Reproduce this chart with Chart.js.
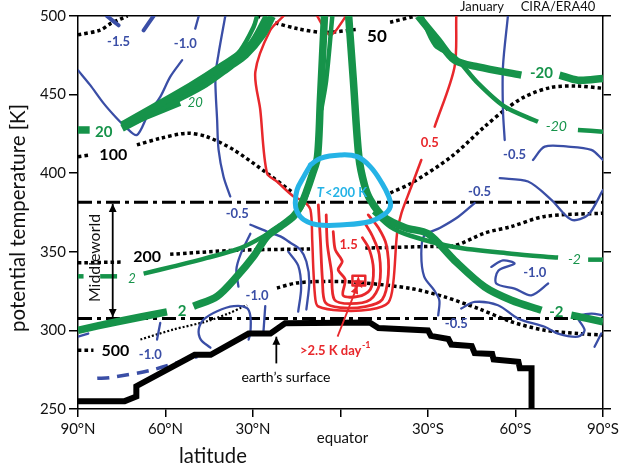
<!DOCTYPE html>
<html lang="en">
<head>
<meta charset="UTF-8">
<title>Middleworld | January CIRA/ERA40</title>
<script src="https://cdn.jsdelivr.net/npm/chart.js@4.4.1/dist/chart.umd.min.js"></script>
<style>
  html, body { margin: 0; padding: 0; background: #fff; }
  .wrap { width: 622px; height: 467px; position: relative; }
</style>
</head>
<body>
<div class="wrap"><canvas id="theta"></canvas></div>
<script>
// axis ticks
const latTicks = [90, 60, 30, 0, -30, -60, -90];
const thetaTicks = [250, 300, 350, 400, 450, 500];

// [latitude (N > 0), potential temperature K]
const surface = [[90,255],[74,255],[70,258],[70,264.5],[50,284.5],[44.5,284.5],[31.5,298],[24,298],[19,304.5],[-10,305],[-13,301.5],[-30,300],[-31,296.5],[-37,294.5],[-38,291],[-45,290],[-46,285.5],[-52,285],[-52.5,281.5],[-61,280],[-61.5,276],[-65.5,276],[-65.5,250]];
const layerTop = [[90,381.5],[-90,381.5]];
const layerBottom = [[90,307.5],[-90,307.5]];

// pressure levels (hPa), dotted
const p50a = [[90,488],[82.4,491],[79,495],[75.5,498],[73,500]];
const p50b = [[28.6,500],[22.9,496],[14.9,492],[5.8,489.5],[-5.7,491.5]];
const p50c = [[-17,496],[-25.7,500]];
const p100a = [[90,410.5],[85.8,411.6]];
const p100b = [[69.8,418],[61.8,422.2],[52.6,425.4],[45.8,423.2],[36.6,414.8],[25.2,400],[16.1,387.3]];
const p100c = [[-17.1,387.5],[-24.3,393.7],[-38,410.5],[-49.4,429.6],[-56.3,440.2],[-63.1,448.6],[-72.3,454.6],[-81.4,455.4],[-90,454]];
const p200a = [[90,343],[74.4,343.5]];
const p200b = [[58.4,348.4],[36.6,350.9],[10.3,351.8]];
const p200c = [[-8.5,352.4],[-30.8,353.4],[-39.1,353.9],[-49.4,361.9],[-58.6,366.1],[-70,372.5],[-90,374.6]];
const p300 = [[21.8,327],[14.9,330.2],[3.5,331.2],[-7.9,330.2],[-24.3,326.6],[-35.7,321.3],[-47.2,313.9],[-58.6,305.5],[-70,300.1],[-81.5,298],[-90,297]];
const p500a = [[90,287.4],[84.7,287.4]];
const p500b = [[68.6,294.2],[57.2,300.6],[45.8,305.8],[37.8,311.2],[34.3,314.3],[32,316]];

// zonal wind (m/s), green
const u20stub = [[90,427.5],[86,427.5]];
const u20a = [[74.9,430.6],[51.5,455.4],[40.2,468.7],[30.9,481.4],[25.1,499.8]];
const u20b = [[74.9,428.7],[56.6,446.5],[46.4,456.7],[37.8,468.1],[32.6,475.1],[26.8,487.8],[23.4,499.8]];
const u20c1 = [[73.8,430],[54.9,444.3]];
const u20c2 = [[48.6,453.9],[41.1,465.5],[34.3,478.2],[29.8,493],[28.6,500]];
const u2a = [[90,300.1],[76.6,305.5],[59.5,311.8]];
const u2b = [[50.4,315.4],[42.3,321.7],[35.5,334.4],[29.8,347.1],[25.2,359.8],[20.6,366.1],[16.1,372.5],[13.8,378.8],[11.7,388.1],[9.7,398.9],[7.9,410.3],[6.9,446.5],[5.5,500]];
const u2thinA = [[90,334.4],[88.1,334.4]];
const u2thinB = [[82.4,334.4],[76.6,334.4]];
const u2thinC = [[67.5,336.1],[57.2,340.7],[45.8,346.1],[34.3,352.4],[26.4,359.8],[19.5,368.3],[14.9,374.6],[12.6,381],[10.6,392.6]];
const u2top = [[6.6,440.2],[4.9,459.2],[2.8,500]];
const um2a = [[-2.8,500],[-4.4,459.2],[-6.3,410.3],[-8.2,392.6],[-10.2,383.1],[-14.7,372.3],[-22.2,365.3],[-30,361.5],[-39.1,344.5],[-49.4,327.7],[-58.6,319.2],[-68.9,312.8]];
const um2b = [[-79.1,309.7],[-90,305.5]];
const um2thin = [[-11.3,375.5],[-17.1,365.9],[-24,360.2],[-39,353],[-58.6,348.8],[-74.6,346.3]];
const um2thin2 = [[-84.9,345],[-90,345]];
const um20a = [[-26.6,500],[-33.4,484.6],[-39.1,471.9],[-47.2,467.6],[-62,462.4]];
const um20b = [[-75.1,462.4],[-81.4,459.2],[-90,460.3]];
const um20thin = [[-27.7,500],[-32.5,481.4],[-39.1,474],[-47.2,457.1],[-56.3,442.3],[-67.7,432.7]];
const um20thin2 = [[-81.4,427.5],[-90,426.4]];

// heating (K/day), red
const h05 = [[19.5,500],[24.1,490.9],[29.2,464.5],[27.5,440.2],[25.2,400],[21.8,394.7],[16.1,385.2],[12.6,382],[10.3,376.7],[9.7,357.7],[9.3,338.6],[8.6,319.6],[7.6,315.2],[0.1,312.6],[-10.2,313.3],[-16.4,317.7],[-18.1,330.4],[-19.4,361.9],[-20.9,374.6],[-24.3,391.5],[-27.7,408.4]];
const h05top = [[-32.3,429.6],[-39.1,467.6],[-39.7,500]];
const h05v = [[8,500],[3.5,487.8],[-1.7,499.4]];
const h10 = [[7.6,379.9],[6.9,357.7],[6.2,332.3],[5.2,317.7],[0.1,314.5],[-8.5,315.2],[-14.3,319.6],[-16.4,335.5],[-15.7,354.5],[-13,365.3],[-9.5,373.5]];
const h15 = [[4.9,373.5],[4.5,354.5],[3.1,337.4],[2.1,319.6],[-3.4,317],[-10.2,319.6],[-13.3,329.1],[-13.3,348.2],[-10.9,360.2],[-8.5,367.8]];
const h20 = [[2.5,362.8],[1.8,351.4],[-0.6,343.8],[0.8,338.6],[-1.6,332.3],[-0.9,322.2],[-6.1,321.6],[-10.2,326],[-11.3,338.6],[-9.9,351.4],[-7.5,359]];
const h25 = [[-4.1,334.8],[-8.5,334.8],[-8.5,328.5],[-4.1,328.5],[-4.1,334.8]];
const heatMax = [[-6.1,330.4]];

// cooling (K/day), blue
const c15a = [[80.1,500],[76.1,494.1]];
const c15b = [[67.5,490.9],[64.1,500]];
const c10a = [[90,465.5],[85.8,456],[81.2,444.4],[77.2,435.9],[73.8,429.6],[69.8,424.3],[65.8,438.1],[61.8,448.6],[58.4,461.3],[54.3,471.9]];
const c10b = [[49.8,492],[48.6,500]];
const c05a = [[39.5,500],[41.8,476.1],[42.9,461.3],[42.3,433.8],[41.8,414.8],[40.1,397.8],[37.8,385.2]];
const c05b = [[30.9,367.2],[25.2,362.9],[20.6,359.8],[17.2,355.8],[13.8,351.4],[11.7,343.8],[10.7,331],[11.7,313.3]];
const c05c = [[17.9,350.1],[14.5,341.2],[13.5,327.2],[14.5,312]];
const c10c = [[30.9,361.5],[34.3,348.2],[35.7,338.6],[35,327.9]];
const c10d = [[44.6,289],[47.9,294.2],[48.6,300.6],[46.9,306.9],[42.3,312.2],[36.6,315.4],[32.1,314.3],[30.9,309],[30.9,298.5],[31.5,294.2]];
const c10e = [[25.8,315.4],[26.4,299.5]];
const c10f = [[61.8,304.8],[62.9,294.2]];
const c10g = [[90,296],[86.5,298]];
const c10h = [[83.4,269.5],[78.9,270],[65.2,274.6],[49.1,283.4]];
const c05d = [[-57.4,500],[-55.7,467.6],[-55.7,440.2],[-56.3,421.1]];
const c05e = [[-66,408.4],[-70,416.9],[-78,416.9],[-86,414.8],[-90,408.4]];
const c05f = [[-54.6,396.8],[-64.3,394.7],[-72.3,383.1],[-79.2,370.4],[-84.9,373.5],[-90,389.4]];
const c05g = [[-46,381],[-40.4,372.3],[-34.2,365.3],[-28.7,360.2],[-27.7,348.8],[-28.7,334.2],[-32.2,325.3],[-33.9,319],[-33.5,309.5]];
const c10i = [[-51.7,340.4],[-55.7,344.5],[-59.7,342.5],[-54.1,338],[-53.4,329.8],[-59.7,326.6],[-65.4,322.3],[-71.2,329.8]];
const c05h = [[-41.4,313.9],[-46,318.1],[-54,316],[-60.9,307.5],[-70,302.3],[-74.6,298],[-81.4,296],[-83.7,300.1],[-81.4,308.6],[-86,310.7],[-90,309.6]];
const c05i = [[-89.4,298],[-87.1,289.6]];

// T < 200 K region, cyan
const cold = [[10.3,405.3],[6.9,409.5],[0.1,411.6],[-5.7,410.5],[-10.2,404.2],[-14.2,393.7],[-16.5,385.2],[-17.1,378.8],[-14.8,373.5],[-10.2,369.3],[-1.1,367.2],[8,367.2],[12.6,370.4],[14.9,375.6],[15.5,381],[14.9,389.4],[12.6,397.8],[10.3,405.3]];

const BLUE = '#3a4ea6', RED = '#e8282c', GREEN = '#16934a', CYAN = '#25b3e6', INK = '#000';
const FONT = 'Lato, "Open Sans", sans-serif';

// contour labels: text, [lat, theta], colour, font
const labels = [
  ['-1.5', [76.1,483.5], BLUE, 'bold 13px'],
  ['-1.0', [53.2,482.5], BLUE, 'bold 13px'],
  ['50', [-12.5,486.7], INK, 'bold 17px'],
  ['20', [81.2,425.8], GREEN, 'bold 15px'],
  ['20', [49.8,444.6], GREEN, 'italic 13px'],
  ['100', [77.9,411.6], INK, 'bold 16px'],
  ['0.5', [-30.6,419.4], RED, 'bold 13px'],
  ['-20', [-68.9,463.5], GREEN, 'bold 15px'],
  ['-20', [-74,429.6], GREEN, 'italic 14px'],
  ['-0.5', [-59.7,411.6], BLUE, 'bold 13px'],
  ['-0.5', [-47.7,388.3], BLUE, 'bold 13px'],
  ['-0.5', [35.4,374.2], BLUE, 'bold 13px'],
  ['1.5', [-2.8,354.5], RED, 'bold 13px'],
  ['200', [66.3,346.7], INK, 'bold 16px'],
  ['2', [71.5,333], GREEN, 'italic 13px'],
  ['-2', [-80.2,345], GREEN, 'italic 14px'],
  ['-1.0', [-66.6,336.5], BLUE, 'bold 13px'],
  ['-1.0', [28.6,321.7], BLUE, 'bold 13px'],
  ['2', [54.3,312.4], GREEN, 'bold 15px'],
  ['-2', [-74,311.8], GREEN, 'bold 15px'],
  ['-0.5', [-39.7,304.4], BLUE, 'bold 13px'],
  ['500', [77.2,287], INK, 'bold 16px'],
  ['-1.0', [65.2,284.7], BLUE, 'bold 13px'],
  ['earth\u2019s surface', [18.7,270], INK, '14px']
];

// arrows: from, to, colour, double headed
const arrows = [
  [[78.1,308.5], [78.1,380.5], INK, true],
  [[22,279], [22,296], INK, false],
  [[1,296], [-5.8,328.5], RED, false]
];

function trace(pts, color, width, opts = {}) {
  return Object.assign({
    data: pts.map(([x, y]) => ({ x, y })),
    showLine: true,
    borderColor: color,
    borderWidth: width,
    pointRadius: 0,
    pointHoverRadius: 0,
    fill: false,
    tension: 0.3,
    borderCapStyle: 'round',
    borderJoinStyle: 'round'
  }, opts);
}

const DOT = { borderDash: [3.5, 3], borderCapStyle: 'butt', order: 6 };
const DOTTHIN = { borderDash: [2, 2], borderCapStyle: 'butt', order: 6 };
const DASHDOT = { borderDash: [14, 5, 4, 5], borderCapStyle: 'butt', tension: 0, order: 7 };
const G = { order: 2, borderCapStyle: 'butt' };
const R = { order: 3 };
const B = { order: 4 };

const datasets = [
  trace(surface, INK, 6, { tension: 0, borderJoinStyle: 'miter', borderCapStyle: 'butt', order: 0 }),
  trace(cold, CYAN, 5, { tension: 0.4, order: 1 }),
  trace(layerTop, INK, 3, DASHDOT),
  trace(layerBottom, INK, 3, DASHDOT),
  ...[p50a, p50b, p50c, p100a, p100b, p100c, p200a, p200b, p200c, p300, p500a].map(p => trace(p, INK, 3.5, DOT)),
  trace(p500b, INK, 2.2, DOTTHIN),
  ...[u20stub, u20a, u20b, u2a, u2b, um2a, um2b, um20a, um20b].map(p => trace(p, GREEN, 7.5, G)),
  ...[u20c1, u20c2, u2thinA, u2thinB, u2thinC, u2top, um2thin, um2thin2, um20thin, um20thin2].map(p => trace(p, GREEN, 4.5, G)),
  ...[h05, h05top, h05v].map(p => trace(p, RED, 2.5, R)),
  ...[h10, h15, h20].map(p => trace(p, RED, 2.8, R)),
  trace(h25, RED, 2.5, { tension: 0, order: 3 }),
  ...[c15a, c15b].map(p => trace(p, BLUE, 4, B)),
  ...[c10a, c10b, c05a, c05b, c05c, c10c, c10d, c10e, c10f, c10g, c05d, c05e, c05f, c05g, c10i, c05h, c05i].map(p => trace(p, BLUE, 2.3, B)),
  trace(c10h, BLUE, 3.5, { borderDash: [12, 8], borderCapStyle: 'butt', order: 4 })
];

function latLabel(v) {
  if (v === 0) return '';
  return v > 0 ? v + '\u00b0N' : (-v) + '\u00b0S';
}

function arrowHead(ctx, x1, y1, x2, y2, size) {
  const a = Math.atan2(y2 - y1, x2 - x1);
  ctx.beginPath();
  ctx.moveTo(x2, y2);
  ctx.lineTo(x2 - size * Math.cos(a - 0.45), y2 - size * Math.sin(a - 0.45));
  ctx.lineTo(x2 - size * Math.cos(a + 0.45), y2 - size * Math.sin(a + 0.45));
  ctx.closePath();
  ctx.fill();
}

function fitFont(ctx, text, style, width) {
  ctx.font = `${style} 20px ${FONT}`;
  const w = ctx.measureText(text).width;
  return `${style} ${(20 * width / w).toFixed(1)}px ${FONT}`;
}

const overlay = {
  id: 'overlay',
  afterDatasetsDraw(chart) {
    const { ctx, scales } = chart;
    const X = v => scales.x.getPixelForValue(v);
    const Y = v => scales.y.getPixelForValue(v);
    ctx.save();
    ctx.textAlign = 'center';
    ctx.textBaseline = 'middle';

    labels.forEach(([t, [la, th], col, f]) => {
      ctx.font = `${f} ${FONT}`;
      ctx.fillStyle = col;
      ctx.fillText(t, X(la), Y(th));
    });

    // T<200 K
    let cx = X(-0.3), cy = Y(387.4);
    ctx.fillStyle = CYAN;
    ctx.font = `italic bold 13px ${FONT}`;
    const wT = ctx.measureText('T').width;
    ctx.font = `bold 13px ${FONT}`;
    const wR = ctx.measureText('<200 K').width;
    ctx.textAlign = 'left';
    ctx.font = `italic bold 13px ${FONT}`;
    ctx.fillText('T', cx - (wT + wR) / 2, cy);
    ctx.font = `bold 13px ${FONT}`;
    ctx.fillText('<200 K', cx - (wT + wR) / 2 + wT + 1, cy);

    // >2.5 K day-1
    cx = X(1.9); cy = Y(287.2);
    ctx.fillStyle = RED;
    ctx.font = `bold 13px ${FONT}`;
    const wm = ctx.measureText('>2.5 K day').width;
    ctx.font = `bold 9px ${FONT}`;
    const ws = ctx.measureText('-1').width;
    ctx.font = `bold 13px ${FONT}`;
    ctx.fillText('>2.5 K day', cx - (wm + ws) / 2, cy);
    ctx.font = `bold 9px ${FONT}`;
    ctx.fillText('-1', cx - (wm + ws) / 2 + wm + 0.5, cy - 5);
    ctx.textAlign = 'center';

    // arrows
    arrows.forEach(([a, b, col, both]) => {
      const x1 = X(a[0]), y1 = Y(a[1]), x2 = X(b[0]), y2 = Y(b[1]);
      ctx.strokeStyle = col;
      ctx.fillStyle = col;
      ctx.lineWidth = 1.8;
      ctx.beginPath();
      ctx.moveTo(x1, y1);
      ctx.lineTo(x2, y2);
      ctx.stroke();
      arrowHead(ctx, x1, y1, x2, y2, 9);
      if (both) arrowHead(ctx, x2, y2, x1, y1, 9);
    });

    // heating maximum
    const [sx, sy] = [X(heatMax[0][0]), Y(heatMax[0][1])];
    ctx.fillStyle = RED;
    ctx.beginPath();
    for (let i = 0; i < 10; i++) {
      const r = i % 2 ? 2.8 : 7;
      const a = -Math.PI / 2 + i * Math.PI / 5;
      ctx.lineTo(sx + r * Math.cos(a), sy + r * Math.sin(a));
    }
    ctx.closePath();
    ctx.fill();

    // Middleworld
    ctx.save();
    ctx.translate(95, 258);
    ctx.rotate(-Math.PI / 2);
    ctx.fillStyle = '#111';
    ctx.font = fitFont(ctx, 'Middleworld', '', 88);
    ctx.fillText('Middleworld', 0, 0);
    ctx.restore();

    // axis titles
    ctx.save();
    ctx.translate(18, 218);
    ctx.rotate(-Math.PI / 2);
    ctx.fillStyle = '#111';
    ctx.font = fitFont(ctx, 'potential temperature [K]', '', 228);
    ctx.fillText('potential temperature [K]', 0, 0);
    ctx.restore();

    ctx.fillStyle = '#111';
    ctx.font = fitFont(ctx, 'latitude', '', 68);
    ctx.fillText('latitude', 213, 456);
    ctx.font = `15px ${FONT}`;
    ctx.fillText('equator', X(0) + 2, 438);

    ctx.font = `13px ${FONT}`;
    ctx.fillText('January', 482, 7);
    ctx.fillText('CIRA/ERA40', 558, 7);
    ctx.restore();
  }
};

new Chart(document.getElementById('theta'), {
  type: 'scatter',
  data: { datasets },
  options: {
    responsive: true,
    maintainAspectRatio: false,
    animation: false,
    events: [],
    layout: { padding: 0 },
    plugins: { legend: { display: false }, tooltip: { enabled: false } },
    scales: {
      x: {
        type: 'linear', position: 'bottom', min: -90, max: 90, reverse: true,
        afterBuildTicks: s => { s.ticks = latTicks.map(value => ({ value })); },
        afterFit: s => { s.height = 58; },
        ticks: { callback: latLabel, color: '#111', font: { family: FONT, size: 15 }, padding: 3, maxRotation: 0, autoSkip: false },
        grid: { drawOnChartArea: false, tickLength: 8, color: INK, lineWidth: 1.5 },
        border: { color: INK, width: 1.5 }
      },
      x2: {
        type: 'linear', position: 'top', min: -90, max: 90, reverse: true,
        afterFit: s => { s.height = 16; },
        ticks: { display: false },
        grid: { display: false },
        border: { color: INK, width: 1.5 }
      },
      y: {
        type: 'linear', position: 'left', min: 250, max: 500,
        afterBuildTicks: s => { s.ticks = thetaTicks.map(value => ({ value })); },
        afterFit: s => { s.width = 78; },
        ticks: { color: '#111', font: { family: FONT, size: 15 }, padding: 3 },
        grid: { drawOnChartArea: false, tickLength: 9, color: INK, lineWidth: 1.5 },
        border: { color: INK, width: 1.5 }
      },
      y2: {
        type: 'linear', position: 'right', min: 250, max: 500,
        afterBuildTicks: s => { s.ticks = thetaTicks.map(value => ({ value })); },
        afterFit: s => { s.width = 19; },
        ticks: { display: false },
        grid: { drawOnChartArea: false, tickLength: 8, color: INK, lineWidth: 1.5 },
        border: { color: INK, width: 1.5 }
      }
    }
  },
  plugins: [overlay]
});
</script>
</body>
</html>
